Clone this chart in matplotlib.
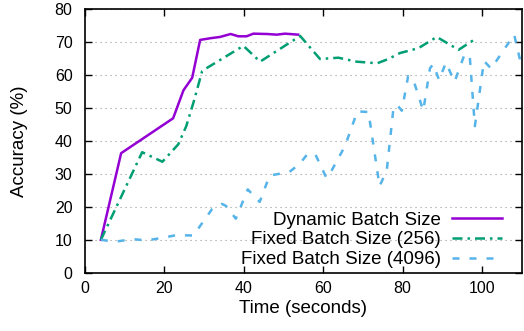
import matplotlib
matplotlib.use("Agg")
import matplotlib.pyplot as plt

plt.rcParams['font.family'] = ['Liberation Sans', 'DejaVu Sans']

# Dynamic batch size
dyn_t = [4, 9.1, 22.2, 24.8, 27.0, 29.0, 31.5, 34.0, 36.7, 38.6, 40.7, 42.4, 45.8, 48.3, 50.4, 53.7]
dyn_acc = [10, 36.3, 46.9, 55.4, 59.2, 70.7, 71.2, 71.6, 72.5, 71.8, 71.8, 72.6, 72.5, 72.3, 72.6, 72.3]

# Fixed batch size 256
b256_t = [4, 14.4, 19.5, 23.5, 25.5, 27.4, 29.5, 31.0, 39.9, 44.1, 54.2, 59.2, 63.8,
          68.4, 73.6, 76.4, 79.3, 84.0, 88.6, 94.1, 98.2]
b256_acc = [10, 36.6, 33.7, 39.0, 44.5, 52.0, 61.2, 62.4, 68.9, 64.1, 71.9, 64.9, 65.3,
            64.1, 63.6, 64.9, 66.7, 68.2, 71.6, 67.7, 70.9]

# Fixed batch size 4096
b4096_t = [4, 7.5, 12.0, 15.5, 19.5, 23.0, 27.3, 32.0, 34.5, 35.5, 38.0, 41.0, 44.0,
           46.5, 51.5, 54.2, 56.0, 58.0, 60.8, 62.2, 65.5, 68.6, 71.4, 74.2, 76.0,
           77.7, 78.6, 79.8, 81.4, 82.7, 85.2, 86.9, 87.7, 89.2, 90.9, 93.1, 95.6,
           96.9, 98.2, 100.5, 102.3, 108.1, 110.0]
b4096_acc = [10, 9.4, 10.2, 9.8, 10.6, 11.4, 11.3, 19.3, 20.9, 20.3, 16.4, 25.3, 21.5,
             29.5, 30.6, 33.2, 36.0, 36.0, 28.8, 31.2, 38.5, 49.0, 48.8, 26.3, 31.0,
             50.0, 51.0, 49.2, 59.7, 58.6, 49.2, 62.1, 63.3, 58.5, 63.8, 58.0, 66.3,
             66.0, 44.5, 64.3, 62.0, 72.3, 62.5]

fig = plt.figure(figsize=(5.24, 3.31), dpi=100)
ax = fig.add_axes([85 / 524, (331 - 272.7) / 331, 436.7 / 524, 263.4 / 331])

ax.plot(dyn_t, dyn_acc, color='#9400D3', lw=1.8, label='Dynamic Batch Size')
ax.plot(b256_t, b256_acc, color='#009E73', lw=1.8, dashes=(4, 2, 1, 2),
        label='Fixed Batch Size (256)')
ax.plot(b4096_t, b4096_acc, color='#56B4E9', lw=1.8, dashes=(2.8, 4),
        label='Fixed Batch Size (4096)')

ax.set_xlim(0, 110)
ax.set_ylim(0, 80)
ax.set_xticks(range(0, 101, 20))
ax.set_yticks(range(0, 81, 10))
ax.yaxis.grid(True, linestyle=(0, (1, 3.5)), color='#999999', lw=0.8)
ax.tick_params(direction='in', length=5, width=1, top=True, right=True,
               labelsize=11.5)
ax.tick_params(axis='x', pad=6)
ax.tick_params(axis='y', pad=9)
for s in ax.spines.values():
    s.set_linewidth(1.2)

ax.set_xlabel('Time (seconds)', fontsize=13.5, labelpad=3)
ax.set_ylabel('Accuracy (%)', fontsize=13.5, labelpad=19)

leg = ax.legend(loc='lower right', bbox_to_anchor=(0.956, 0.017), frameon=False,
                markerfirst=False, fontsize=13.5, handlelength=2.67,
                handletextpad=0.6, labelspacing=0.14, borderpad=0, borderaxespad=0)

fig.savefig('out.png', dpi=100)
